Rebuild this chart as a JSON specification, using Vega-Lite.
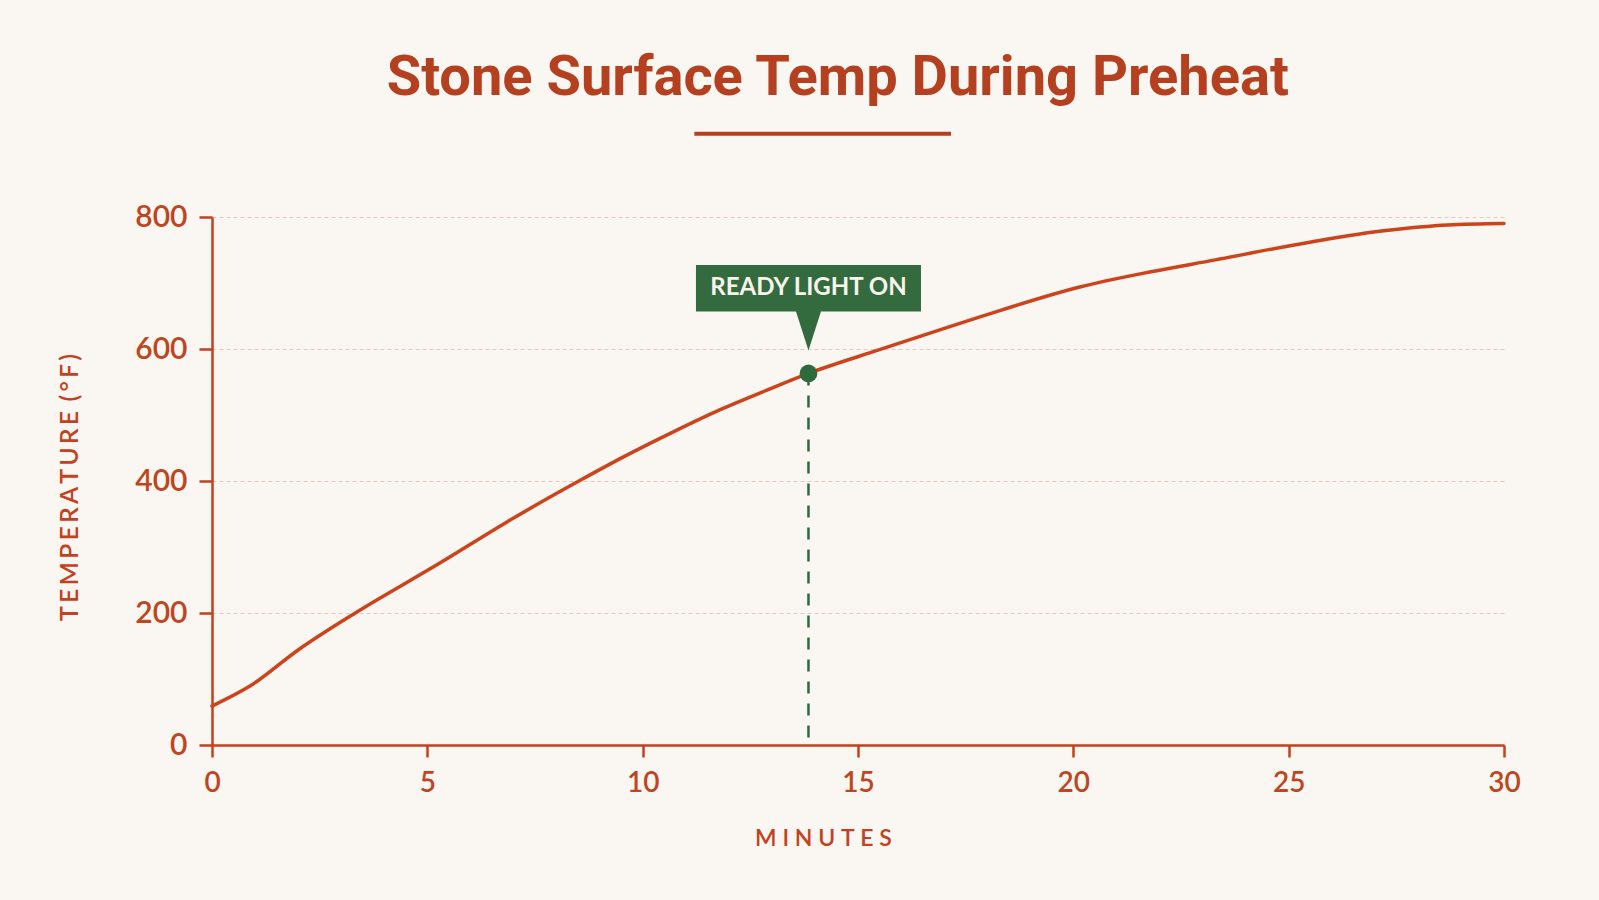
{
  "$schema": "https://vega.github.io/schema/vega-lite/v6.json",
  "width": 1292,
  "height": 528,
  "autosize": {"type": "none"},
  "padding": {"left": 212, "top": 217, "right": 95, "bottom": 155},
  "background": "#FAF6F1",
  "config": {
    "view": {"stroke": null},
    "axis": {
      "domainColor": "#C2411E",
      "domainWidth": 2.5,
      "tickColor": "#C2411E",
      "tickWidth": 2.5,
      "labelColor": "#BF4520",
      "labelFont": "Lato",
      "labelFontWeight": 600,
      "titleColor": "#C2411E",
      "titleFont": "Lato",
      "titleFontWeight": 600
    }
  },
  "datasets": {
    "curve": [
      {"minutes": 0, "temp": 59},
      {"minutes": 0.9, "temp": 90},
      {"minutes": 2, "temp": 144},
      {"minutes": 3.3, "temp": 199},
      {"minutes": 5.3, "temp": 276},
      {"minutes": 6.85, "temp": 338},
      {"minutes": 8.55, "temp": 401},
      {"minutes": 9.6, "temp": 438},
      {"minutes": 10.7, "temp": 474},
      {"minutes": 11.8, "temp": 508},
      {"minutes": 12.9, "temp": 538},
      {"minutes": 13.85, "temp": 563},
      {"minutes": 15.5, "temp": 599},
      {"minutes": 16.9, "temp": 629},
      {"minutes": 17.85, "temp": 649},
      {"minutes": 20.15, "temp": 694},
      {"minutes": 21.8, "temp": 717},
      {"minutes": 23.3, "temp": 735},
      {"minutes": 25, "temp": 756},
      {"minutes": 27.2, "temp": 779},
      {"minutes": 28.7, "temp": 788},
      {"minutes": 30, "temp": 790}
    ],
    "ready": [
      {"minutes": 13.85, "temp": 563, "label": "READY LIGHT ON"}
    ],
    "heading": [
      {"text": "Stone Surface Temp During Preheat"}
    ]
  },
  "layer": [
    {
      "data": {"name": "curve"},
      "mark": {"type": "line", "interpolate": "monotone", "strokeWidth": 3.5, "color": "#CC431C", "strokeCap": "round"},
      "encoding": {
        "x": {
          "field": "minutes", "type": "quantitative",
          "scale": {"domain": [0, 30], "nice": false},
          "axis": {
            "title": "M\u2005I\u2005N\u2005U\u2005T\u2005E\u2005S",
            "values": [0, 5, 10, 15, 20, 25, 30],
            "grid": false,
            "tickSize": 12,
            "labelFontSize": 28,
            "labelPadding": 12,
            "labelFlush": false,
            "titleFontSize": 23,
            "titleX": 611,
            "titleY": 93,
            "titleBaseline": "middle",
            "titleAlign": "center"
          }
        },
        "y": {
          "field": "temp", "type": "quantitative",
          "scale": {"domain": [0, 800], "nice": false},
          "axis": {
            "title": "T\u2009E\u2009M\u2009P\u2009E\u2009R\u2009A\u2009T\u2009U\u2009R\u2009E\u2009 (\u2009°\u2009F\u2009)",
            "values": [0, 200, 400, 600, 800],
            "grid": true,
            "gridColor": "#EBC6BC",
            "gridDash": [4, 3],
            "gridWidth": 1,
            "tickSize": 13,
            "labelFontSize": 30,
            "labelPadding": 12,
            "labelFlush": false,
            "titleFontSize": 25,
            "titleAngle": -90,
            "titleX": -143,
            "titleY": 270,
            "titleBaseline": "middle",
            "titleAlign": "center"
          }
        }
      }
    },
    {
      "data": {"name": "heading"},
      "mark": {"type": "text", "align": "center", "baseline": "alphabetic", "font": "Roboto, sans-serif", "fontSize": 56, "fontWeight": "bold", "color": "#B5401F", "clip": false},
      "encoding": {
        "x": {"datum": 14.53, "type": "quantitative"},
        "y": {"datum": 985, "type": "quantitative"},
        "text": {"field": "text"}
      }
    },
    {
      "data": {"values": [{}]},
      "mark": {"type": "rule", "color": "#B5401F", "strokeWidth": 4, "clip": false},
      "encoding": {
        "x": {"datum": 11.2, "type": "quantitative"},
        "x2": {"datum": 17.16},
        "y": {"datum": 926, "type": "quantitative"}
      }
    },
    {
      "data": {"name": "ready"},
      "mark": {"type": "rule", "color": "#2F6A3D", "strokeWidth": 2.5, "strokeDash": [12, 10]},
      "encoding": {
        "x": {"field": "minutes", "type": "quantitative"},
        "y": {"field": "temp", "type": "quantitative"},
        "y2": {"datum": 0}
      }
    },
    {
      "data": {"name": "ready"},
      "mark": {"type": "point", "filled": true, "size": 314, "color": "#2F6A3D", "opacity": 1},
      "encoding": {
        "x": {"field": "minutes", "type": "quantitative"},
        "y": {"field": "temp", "type": "quantitative"}
      }
    },
    {
      "data": {"name": "ready"},
      "mark": {
        "type": "point", "filled": true, "size": 50625, "color": "#336B3E", "opacity": 1,
        "shape": "M0,-0.204L-0.111,-0.551L-1,-0.551L-1,-0.963L1,-0.963L1,-0.551L0.111,-0.551Z"
      },
      "encoding": {
        "x": {"field": "minutes", "type": "quantitative"},
        "y": {"field": "temp", "type": "quantitative"}
      }
    },
    {
      "data": {"name": "ready"},
      "mark": {"type": "text", "dy": -85, "align": "center", "baseline": "middle", "font": "Lato", "fontWeight": "bold", "fontSize": 24, "color": "#F7F4EC"},
      "encoding": {
        "x": {"field": "minutes", "type": "quantitative"},
        "y": {"field": "temp", "type": "quantitative"},
        "text": {"field": "label"}
      }
    }
  ]
}
